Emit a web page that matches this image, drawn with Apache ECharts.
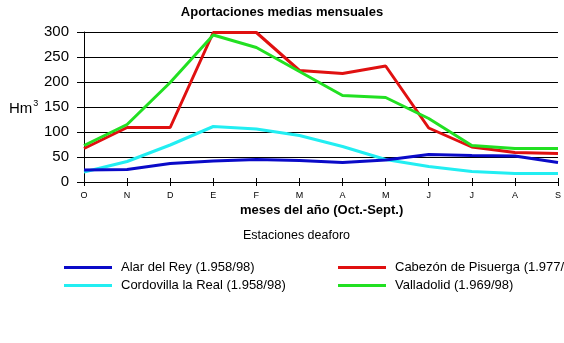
<!DOCTYPE html>
<html><head><meta charset="utf-8">
<script src="https://cdn.jsdelivr.net/npm/echarts@6/dist/echarts.min.js"></script>
<style>html,body{margin:0;padding:0;background:#fff}#c{width:564px;height:343px}</style>
</head><body><div id="c"></div>
<script>
const months = ['O','N','D','E','F','M','A','M','J','J','A','S'];
const alar = [24,25,37,42,45,43,39,44,55,53,52,39];
const cordovilla = [20,41,74,111,106,93,71,45,31,21,17,17];
const cabezon = [67,109,109,299,299,223,217,232,108,70,59,57];
const valladolid = [73,115,199,294,269,221,173,169,127,73,67,67];
const yTicks = [0,50,100,150,200,250,300];
const names = ['Alar del Rey (1.958/98)','Cordovilla la Real (1.958/98)','Cabezón de Pisuerga (1.977/98)','Valladolid (1.969/98)'];
const colors = ['#0A0AC8','#22EEF2','#E01010','#22E022'];
const F = '"Liberation Sans", Arial, sans-serif';

const chart = echarts.init(document.getElementById('c'));
function leg(i, left, top){
  return {data:[names[i]], left:left, top:top, icon:'rect', itemWidth:48, itemHeight:3,
    padding:0, textStyle:{fontFamily:F, fontSize:13, color:'#000', padding:[0,0,0,4]}, selectedMode:false};
}
const series = [alar, cordovilla, cabezon, valladolid].map((d,i)=>({
  name:names[i], type:'line', data:d, symbol:'none', smooth:false,
  lineStyle:{color:colors[i], width:3}, itemStyle:{color:colors[i]}, z: i===0?5:(i===1?4:3)
}));
chart.setOption({
  animation:false,
  textStyle:{fontFamily:F},
  grid:{left:84, right:6, top:32, bottom:161, containLabel:false},
  legend:[leg(0,64,261), leg(1,64,279), leg(2,338,261), leg(3,338,279)],
  xAxis:[{type:'category', data:months, boundaryGap:false,
    axisLine:{lineStyle:{color:'#000', width:1}},
    axisTick:{show:true, length:4, lineStyle:{color:'#000'}, alignWithLabel:true},
    axisLabel:{color:'#000', fontSize:9, margin:9, fontFamily:F},
    splitLine:{show:false}},
    {type:'category', data:months, boundaryGap:false, position:'bottom',
    axisLine:{show:false},
    axisTick:{show:true, inside:true, length:4, lineStyle:{color:'#000'}},
    axisLabel:{show:false}, splitLine:{show:false}}],
  yAxis:{type:'value', min:0, max:300, interval:50,
    axisLine:{show:true, lineStyle:{color:'#000'}},
    axisTick:{show:true, length:7, lineStyle:{color:'#000'}},
    axisLabel:{color:'#000', fontSize:15, margin:15, fontFamily:F,
      formatter:v=>yTicks.includes(v)?String(v):''},
    splitLine:{show:true, lineStyle:{color:'#000', width:1}}},
  graphic:[
    {type:'text', left:'center', top:6, style:{text:'Aportaciones medias mensuales', font:'bold 13px '+F, fill:'#000'}},
    {type:'text', left:240, top:204, style:{text:'meses del año (Oct.-Sept.)', font:'bold 13px '+F, fill:'#000'}},
    {type:'text', left:243, top:229, style:{text:'Estaciones deaforo', font:'12.5px '+F, fill:'#000'}},
    {type:'text', left:9, top:99, style:{text:'{a|Hm}{b|3}', rich:{a:{font:'15px '+F, fill:'#000', verticalAlign:'bottom'}, b:{font:'9px '+F, fill:'#000', verticalAlign:'top', padding:[0,0,8,1]}}}}
  ],
  series:series
});
</script></body></html>
